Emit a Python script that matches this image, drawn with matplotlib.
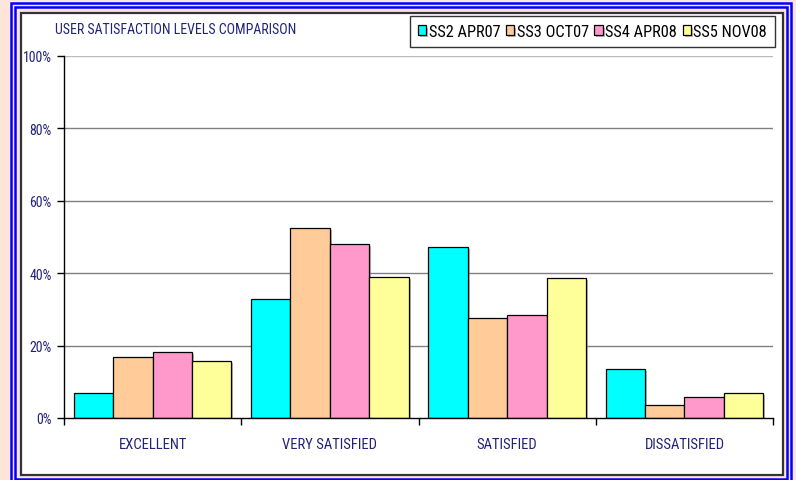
import matplotlib
matplotlib.use("Agg")
import matplotlib.pyplot as plt
import matplotlib.patheffects as pe
from matplotlib.patches import Rectangle
from matplotlib.ticker import FixedLocator, NullFormatter
import numpy as np

categories = ["EXCELLENT", "VERY SATISFIED", "SATISFIED", "DISSATISFIED"]
series_names = ["SS2 APR07", "SS3 OCT07", "SS4 APR08", "SS5 NOV08"]
ss2_apr07 = [6.9, 32.9, 47.2, 13.5]
ss3_oct07 = [16.9, 52.5, 27.6, 3.6]
ss4_apr08 = [18.2, 48.1, 28.5, 5.8]
ss5_nov08 = [15.7, 39.0, 38.7, 6.9]
y_ticks = [0, 20, 40, 60, 80, 100]
y_tick_labels = ["0%", "20%", "40%", "60%", "80%", "100%"]
title = "USER SATISFACTION LEVELS COMPARISON"

colors = ["#00FFFF", "#FFCC99", "#FF99CC", "#FFFF99"]
text_blue = "#22227A"
FONT = ["Roboto Condensed", "Liberation Sans", "DejaVu Sans"]
plt.rcParams["font.family"] = FONT

W, H = 796, 481
fig = plt.figure(figsize=(W / 100, H / 100), dpi=100)
fig.patch.set_facecolor("#FDE5D9")


def px_rect(x0, y0, x1, y1, **kw):
    r = Rectangle((x0 / W, 1 - y1 / H), (x1 - x0) / W, (y1 - y0) / H,
                  transform=fig.transFigure, zorder=-5, **kw)
    fig.patches.append(r)
    return r

# double blue frame
px_rect(11, 4, 791, 484, fill=False, edgecolor="#0000FF", linewidth=1.8)
px_rect(15, 7.5, 787, 479.5, fill=False, edgecolor="#0000FF", linewidth=1.8)
# white chart box
px_rect(20.5, 13.5, 783, 475.5, facecolor="white", edgecolor="#333333", linewidth=1.6)

ax = fig.add_axes([64 / W, 1 - 419 / H, (773 - 64) / W, (419 - 57) / H])
ax.set_facecolor("none")

series = [ss2_apr07, ss3_oct07, ss4_apr08, ss5_nov08]
n = len(series)
x = np.arange(len(categories))
group = 0.889
bw = group / n
for i, (vals, c, name) in enumerate(zip(series, colors, series_names)):
    offs = -group / 2 + bw * (i + 0.5)
    ax.bar(x + offs, vals, width=bw, color=c, edgecolor="black", linewidth=0.9,
           label=name, zorder=3,
           path_effects=[pe.SimplePatchShadow(offset=(1.5, -1.5), shadow_rgbFace="#888888", alpha=0.6),
                         pe.Normal()])

ax.set_xlim(-0.5, len(categories) - 0.5)
ax.set_ylim(0, 100)
ax.set_yticks(y_ticks)
ax.set_yticklabels(y_tick_labels, color=text_blue, fontsize=10)
for yv in y_ticks[1:]:
    ax.axhline(yv, color="#808080" if yv < 100 else "#BBBBBB", linewidth=1.0, zorder=1)

ax.xaxis.set_major_locator(FixedLocator(x))
ax.set_xticklabels(categories, color=text_blue, fontsize=10.5)
ax.xaxis.set_minor_locator(FixedLocator(np.arange(len(categories) + 1) - 0.5))
ax.xaxis.set_minor_formatter(NullFormatter())
ax.tick_params(axis="x", which="major", length=0, pad=14)
ax.tick_params(axis="x", which="minor", length=5, direction="out", width=1)
ax.tick_params(axis="y", length=5, direction="out", width=1, pad=4)

for s in ["top", "right"]:
    ax.spines[s].set_visible(False)
for s in ["left", "bottom"]:
    ax.spines[s].set_color("black")
    ax.spines[s].set_linewidth(1.0)
    ax.spines[s].set_zorder(4)

fig.text(55 / W, 1 - 30.5 / H, title, color=text_blue, fontsize=10,
         ha="left", va="center")

leg = fig.legend(loc="upper right", bbox_to_anchor=(775 / W, 1 - 17 / H), ncol=4,
                 fontsize=11.8, frameon=True, fancybox=False, edgecolor="black",
                 handlelength=0.5, handleheight=0.55, handletextpad=0.15,
                 columnspacing=0.35, borderpad=0.5, borderaxespad=0)
leg.get_frame().set_linewidth(1.0)
for t in leg.get_texts():
    t.set_color("black")

fig.savefig("out.png", dpi=100, facecolor=fig.get_facecolor())
